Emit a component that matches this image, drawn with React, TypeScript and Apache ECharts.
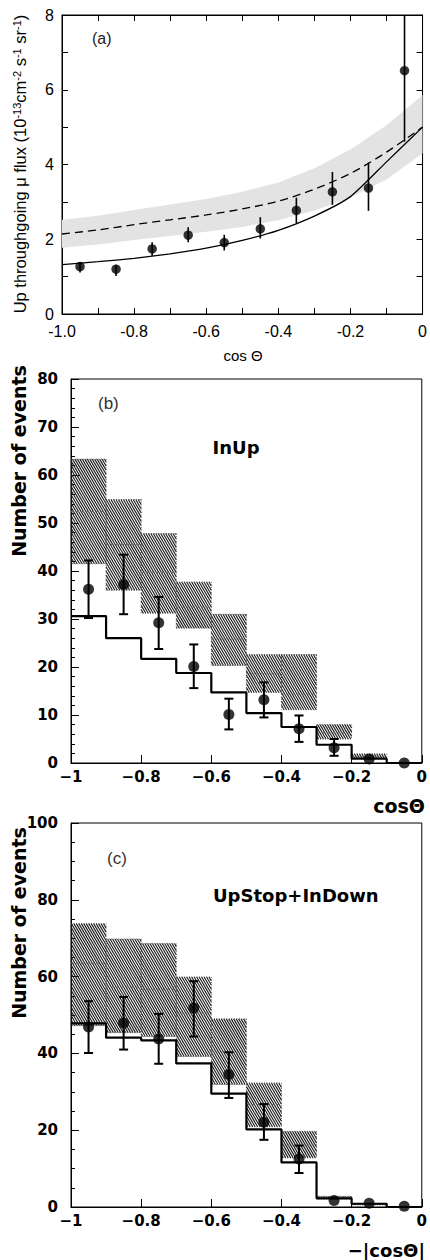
import React, { useEffect, useRef } from "react";
import * as echarts from "echarts";

// ---------- shared bins ----------
const binEdges = [-1, -0.9, -0.8, -0.7, -0.6, -0.5, -0.4, -0.3, -0.2, -0.1, 0];
const binCenters = [-0.95, -0.85, -0.75, -0.65, -0.55, -0.45, -0.35, -0.25, -0.15, -0.05];

// ---------- panel (a): upward throughgoing muon flux ----------
const aFlux = [1.27, 1.2, 1.74, 2.11, 1.91, 2.28, 2.77, 3.27, 3.37, 6.51];
const aErrLo = [1.11, 1.02, 1.56, 1.92, 1.7, 2.02, 2.43, 2.92, 2.76, 4.61];
const aErrHi = [1.39, 1.32, 1.92, 2.32, 2.12, 2.59, 3.11, 3.8, 4.05, 8.0];
const curveX = [-1, -0.9, -0.8, -0.7, -0.6, -0.5, -0.4, -0.3, -0.2, -0.1, 0];
const aOscCurve = [1.32, 1.4, 1.49, 1.61, 1.76, 1.97, 2.24, 2.62, 3.14, 4.07, 5.0];
const aNoOscCurve = [2.14, 2.25, 2.39, 2.52, 2.65, 2.81, 3.02, 3.34, 3.76, 4.33, 5.0];
const aBandHi = [2.52, 2.63, 2.78, 2.93, 3.08, 3.27, 3.52, 3.9, 4.4, 5.05, 5.86];
const aBandLo = [1.77, 1.86, 1.98, 2.09, 2.2, 2.33, 2.51, 2.77, 3.12, 3.6, 4.3];
const aYTicks = [0, 2, 4, 6, 8];

// ---------- panel (b): InUp ----------
const bData = [36.2, 37.2, 29.2, 20.1, 10.1, 13.2, 7.15, 3.2, 0.85, 0];
const bErrLo = [30.2, 31.0, 23.75, 15.6, 7.0, 9.5, 4.4, 1.5, 0.85, 0];
const bErrHi = [42.2, 43.4, 34.6, 24.7, 13.4, 16.8, 9.9, 5.0, 0.85, 0];
const bOsc = [30.6, 26.0, 21.7, 18.75, 14.7, 10.4, 7.5, 3.8, 0.9, 0];
const bNoOscHi = [63.3, 54.9, 47.8, 37.7, 31.0, 22.6, 22.6, 8.0, 1.9, 0];
const bNoOscLo = [41.5, 36.0, 31.2, 28.1, 20.3, 14.7, 11.1, 5.0, 1.0, 0];
const bNoOscMid = [52.4, 45.5, 39.7, 32.5, 25.8, 18.6, 14.4, 6.3, 1.4, 0];

// ---------- panel (c): UpStop + InDown ----------
const cData = [46.9, 47.9, 43.75, 51.8, 34.5, 22.1, 12.5, 1.7, 1.0, 0.2];
const cErrLo = [40.1, 41.0, 37.3, 44.4, 28.4, 17.5, 8.85, 1.7, 1.0, 0.2];
const cErrHi = [53.6, 54.7, 50.3, 58.8, 40.3, 26.8, 16.0, 1.7, 1.0, 0.2];
const cOsc = [47.8, 44.1, 43.4, 37.4, 29.5, 20.2, 11.6, 2.25, 0.85, 0];
const cNoOscHi = [73.8, 69.8, 68.6, 59.9, 49.0, 32.3, 19.7, 2.8, 0.9, 0];
const cNoOscLo = [47.2, 45.4, 44.4, 39.2, 31.9, 20.9, 12.8, 2.1, 0.55, 0];
const cNoOscMid = [63.5, 57.3, 56.7, 50.5, 40.4, 26.7, 16.1, 2.45, 0.7, 0];

const BOLD = "DejaVu Sans";
const REG = "Liberation Sans";

function histData(vals: number[]) {
  const d = vals.map((v, i) => [binEdges[i], v]);
  d.push([binEdges[binEdges.length - 1], vals[vals.length - 1]]);
  return d;
}

function boxData(lo: number[], hi: number[], mid: number[]) {
  return lo.map((l, i) => [binEdges[i], binEdges[i + 1], l, hi[i], mid[i]]);
}

function errData(lo: number[], hi: number[]) {
  return binCenters.map((x, i) => [x, lo[i], hi[i]]);
}

function hatchRender(params: any, api: any) {
  const xl = api.value(0), xr = api.value(1), lo = api.value(2), hi = api.value(3), mid = api.value(4);
  if (!(hi > lo)) return null;
  const p0 = api.coord([xl, hi]);
  const p1 = api.coord([xr, lo]);
  const x0 = p0[0], y0 = p0[1], x1 = p1[0], y1 = p1[1];
  const k = 1.7;
  const step = 4.2;
  const children: any[] = [];
  const cMin = y0 - k * x1;
  const cMax = y1 - k * x0;
  for (let c = Math.ceil(cMin / step) * step; c <= cMax; c += step) {
    const xa = Math.max(x0, (y0 - c) / k);
    const xb = Math.min(x1, (y1 - c) / k);
    if (xb - xa < 0.2) continue;
    children.push({
      type: "line",
      shape: { x1: xa, y1: k * xa + c, x2: xb, y2: k * xb + c },
      style: { stroke: "#1e1e1e", lineWidth: 1.15 },
    });
  }
  children.push({
    type: "rect",
    shape: { x: x0, y: y0, width: x1 - x0, height: y1 - y0 },
    style: { fill: null, stroke: "#444", lineWidth: 0.8, lineDash: [1, 1.5] },
  });
  const ym = api.coord([xl, mid])[1];
  children.push({
    type: "line",
    shape: { x1: x0, y1: ym, x2: x1, y2: ym },
    style: { stroke: "#666", lineWidth: 1, lineDash: [3, 2] },
  });
  return { type: "group", children };
}

function errRender(cap: number, width: number) {
  return (params: any, api: any) => {
    const x = api.value(0), lo = api.value(1), hi = api.value(2);
    if (!(hi > lo)) return null;
    const t = api.coord([x, hi]);
    const b = api.coord([x, lo]);
    const st = { stroke: "#000", lineWidth: width };
    const children: any[] = [
      { type: "line", shape: { x1: t[0], y1: t[1], x2: b[0], y2: b[1] }, style: st },
    ];
    if (cap > 0) {
      children.push({ type: "line", shape: { x1: t[0] - cap, y1: t[1], x2: t[0] + cap, y2: t[1] }, style: st });
      children.push({ type: "line", shape: { x1: b[0] - cap, y1: b[1], x2: b[0] + cap, y2: b[1] }, style: st });
    }
    return { type: "group", children };
  };
}

function bandRender(params: any, api: any) {
  if (params.dataIndex !== 0) return null;
  const pts: number[][] = [];
  for (let i = 0; i < curveX.length; i++) pts.push(api.coord([curveX[i], aBandHi[i]]));
  for (let i = curveX.length - 1; i >= 0; i--) pts.push(api.coord([curveX[i], aBandLo[i]]));
  return {
    type: "polygon",
    shape: { points: pts, smooth: 0 },
    style: { fill: "#e3e3e3", stroke: null },
  };
}

const fmtA = (v: number) => (Math.abs(v) < 1e-9 ? "0" : v.toFixed(1));
const fmtB = (v: number) => {
  if (Math.abs(v) < 1e-9) return "0";
  const s = Math.abs(v - Math.round(v)) < 1e-9 ? String(Math.round(Math.abs(v))) : Math.abs(v).toFixed(1);
  return (v < 0 ? "\u2212" : "") + s;
};

const blackLine = { show: true, lineStyle: { color: "#000", width: 1 } };

function buildOption(): any {
  const xCommonB = {
    type: "value",
    min: -1,
    max: 0,
    interval: 0.2,
    axisLine: { ...blackLine, onZero: false },
    axisTick: { show: true, inside: true, length: 8, lineStyle: { color: "#000" } },
    minorTick: { show: false },
    splitLine: { show: false },
    axisLabel: { fontFamily: BOLD, fontWeight: "bold", fontSize: 15, color: "#000", margin: 6, formatter: fmtB },
  };
  return {
    animation: false,
    backgroundColor: "#fff",
    grid: [
      { left: 62, top: 15, width: 362, height: 299, show: true, borderColor: "#000", borderWidth: 1, backgroundColor: "transparent" },
      { left: 71, top: 379, width: 354, height: 384, show: true, borderColor: "#000", borderWidth: 1, backgroundColor: "transparent" },
      { left: 71, top: 823, width: 354, height: 384, show: true, borderColor: "#000", borderWidth: 1, backgroundColor: "transparent" },
    ],
    xAxis: [
      {
        gridIndex: 0,
        type: "value",
        min: -1,
        max: 0,
        interval: 0.2,
        position: "bottom",
        axisLine: { ...blackLine, onZero: false },
        axisTick: { show: true, inside: true, length: 6, lineStyle: { color: "#000" } },
        minorTick: { show: true, splitNumber: 2, length: 6, lineStyle: { color: "#000" } },
        splitLine: { show: false },
        axisLabel: { fontFamily: REG, fontSize: 16, color: "#000", margin: 9, formatter: fmtA },
      },
      {
        gridIndex: 0,
        type: "value",
        min: -1,
        max: 0,
        interval: 0.2,
        position: "top",
        axisLine: { ...blackLine, onZero: false },
        axisTick: { show: true, inside: true, length: 6, lineStyle: { color: "#000" } },
        minorTick: { show: true, splitNumber: 2, length: 6, lineStyle: { color: "#000" } },
        splitLine: { show: false },
        axisLabel: { show: false },
      },
      { gridIndex: 1, position: "bottom", ...xCommonB },
      { gridIndex: 2, position: "bottom", ...xCommonB },
    ],
    yAxis: [
      {
        gridIndex: 0,
        type: "value",
        min: aYTicks[0],
        max: aYTicks[aYTicks.length - 1],
        interval: 2,
        position: "left",
        axisLine: { ...blackLine, onZero: false },
        axisTick: { show: true, inside: true, length: 6, lineStyle: { color: "#000" } },
        minorTick: { show: true, splitNumber: 2, length: 6, lineStyle: { color: "#000" } },
        splitLine: { show: false },
        axisLabel: { fontFamily: REG, fontSize: 16, color: "#000", margin: 8 },
      },
      {
        gridIndex: 0,
        type: "value",
        min: 0,
        max: 8,
        interval: 2,
        position: "right",
        axisLine: { ...blackLine, onZero: false },
        axisTick: { show: true, inside: true, length: 6, lineStyle: { color: "#000" } },
        minorTick: { show: true, splitNumber: 2, length: 6, lineStyle: { color: "#000" } },
        splitLine: { show: false },
        axisLabel: { show: false },
      },
      {
        gridIndex: 1,
        type: "value",
        min: 0,
        max: 80,
        interval: 10,
        axisLine: { ...blackLine, onZero: false },
        axisTick: { show: true, inside: true, length: 8, lineStyle: { color: "#000" } },
        minorTick: { show: true, splitNumber: 5, length: 4, lineStyle: { color: "#000" } },
        splitLine: { show: false },
        axisLabel: { fontFamily: BOLD, fontWeight: "bold", fontSize: 15, color: "#000", margin: 13 },
      },
      {
        gridIndex: 2,
        type: "value",
        min: 0,
        max: 100,
        interval: 20,
        axisLine: { ...blackLine, onZero: false },
        axisTick: { show: true, inside: true, length: 8, lineStyle: { color: "#000" } },
        minorTick: { show: true, splitNumber: 4, length: 4, lineStyle: { color: "#000" } },
        splitLine: { show: false },
        axisLabel: { fontFamily: BOLD, fontWeight: "bold", fontSize: 15, color: "#000", margin: 13 },
      },
    ],
    series: [
      // ----- (a)
      {
        type: "custom",
        xAxisIndex: 0,
        yAxisIndex: 0,
        renderItem: bandRender,
        data: curveX.map((x, i) => [x, aBandLo[i], aBandHi[i]]),
        encode: { x: 0, y: [1, 2] },
        z: 1,
        silent: true,
      },
      {
        type: "line",
        xAxisIndex: 0,
        yAxisIndex: 0,
        data: curveX.map((x, i) => [x, aNoOscCurve[i]]),
        smooth: 0.3,
        symbol: "none",
        lineStyle: { color: "#000", width: 1.3, type: [8, 5] },
        z: 3,
      },
      {
        type: "line",
        xAxisIndex: 0,
        yAxisIndex: 0,
        data: curveX.map((x, i) => [x, aOscCurve[i]]),
        smooth: 0.2,
        symbol: "none",
        lineStyle: { color: "#000", width: 1.3 },
        z: 3,
      },
      {
        type: "custom",
        xAxisIndex: 0,
        yAxisIndex: 0,
        renderItem: errRender(0, 1.6),
        data: errData(aErrLo, aErrHi),
        encode: { x: 0, y: [1, 2] },
        clip: true,
        z: 4,
      },
      {
        type: "scatter",
        xAxisIndex: 0,
        yAxisIndex: 0,
        data: binCenters.map((x, i) => [x, aFlux[i]]),
        symbol: "circle",
        symbolSize: 9.5,
        itemStyle: { color: "#000" },
        z: 5,
      },
      // ----- (b)
      {
        type: "custom",
        xAxisIndex: 2,
        yAxisIndex: 2,
        renderItem: hatchRender,
        data: boxData(bNoOscLo, bNoOscHi, bNoOscMid),
        encode: { x: [0, 1], y: [2, 3, 4] },
        z: 1,
      },
      {
        type: "line",
        xAxisIndex: 2,
        yAxisIndex: 2,
        data: histData(bOsc),
        step: "end",
        symbol: "none",
        lineStyle: { color: "#000", width: 2.2 },
        z: 3,
      },
      {
        type: "custom",
        xAxisIndex: 2,
        yAxisIndex: 2,
        renderItem: errRender(4.5, 2),
        data: errData(bErrLo, bErrHi),
        encode: { x: 0, y: [1, 2] },
        z: 4,
      },
      {
        type: "scatter",
        xAxisIndex: 2,
        yAxisIndex: 2,
        data: binCenters.map((x, i) => [x, bData[i]]),
        symbol: "circle",
        symbolSize: 11,
        itemStyle: { color: "#000" },
        z: 5,
      },
      // ----- (c)
      {
        type: "custom",
        xAxisIndex: 3,
        yAxisIndex: 3,
        renderItem: hatchRender,
        data: boxData(cNoOscLo, cNoOscHi, cNoOscMid),
        encode: { x: [0, 1], y: [2, 3, 4] },
        z: 1,
      },
      {
        type: "line",
        xAxisIndex: 3,
        yAxisIndex: 3,
        data: histData(cOsc),
        step: "end",
        symbol: "none",
        lineStyle: { color: "#000", width: 2.2 },
        z: 3,
      },
      {
        type: "custom",
        xAxisIndex: 3,
        yAxisIndex: 3,
        renderItem: errRender(4.5, 2),
        data: errData(cErrLo, cErrHi),
        encode: { x: 0, y: [1, 2] },
        z: 4,
      },
      {
        type: "scatter",
        xAxisIndex: 3,
        yAxisIndex: 3,
        data: binCenters.map((x, i) => [x, cData[i]]),
        symbol: "circle",
        symbolSize: 11,
        itemStyle: { color: "#000" },
        z: 5,
      },
    ],
    graphic: [
      {
        type: "text",
        x: 20,
        y: 164,
        rotation: Math.PI / 2,
        style: {
          text: "Up throughgoing \u03bc flux (10{s|-13}cm{s|-2} s{s|-1} sr{s|-1})",
          fontFamily: REG,
          fontSize: 16.5,
          fill: "#000",
          align: "center",
          verticalAlign: "middle",
          rich: {
            s: { fontFamily: REG, fontSize: 11, verticalAlign: "top", lineHeight: 11, padding: [0, 0, 7, 0] },
          },
        },
      },
      {
        type: "text",
        x: 92,
        y: 38,
        style: { text: "(a)", fontFamily: REG, fontSize: 16, fill: "#222", align: "left", verticalAlign: "middle" },
      },
      {
        type: "text",
        x: 243,
        y: 355,
        style: { text: "cos \u0398", fontFamily: REG, fontSize: 15, fill: "#000", align: "center", verticalAlign: "middle" },
      },
      {
        type: "text",
        x: 18.5,
        y: 461,
        rotation: Math.PI / 2,
        style: { text: "Number of events", fontFamily: BOLD, fontWeight: "bold", fontSize: 19, fill: "#000", align: "center", verticalAlign: "middle" },
      },
      {
        type: "text",
        x: 98,
        y: 403,
        style: { text: "(b)", fontFamily: REG, fontSize: 17, fill: "#333", align: "left", verticalAlign: "middle" },
      },
      {
        type: "text",
        x: 236,
        y: 447,
        style: { text: "InUp", fontFamily: BOLD, fontWeight: "bold", fontSize: 18, fill: "#000", align: "center", verticalAlign: "middle" },
      },
      {
        type: "text",
        x: 425,
        y: 806,
        style: { text: "cos\u0398", fontFamily: BOLD, fontWeight: "bold", fontSize: 19, fill: "#000", align: "right", verticalAlign: "middle" },
      },
      {
        type: "text",
        x: 18.5,
        y: 923,
        rotation: Math.PI / 2,
        style: { text: "Number of events", fontFamily: BOLD, fontWeight: "bold", fontSize: 19, fill: "#000", align: "center", verticalAlign: "middle" },
      },
      {
        type: "text",
        x: 107,
        y: 858,
        style: { text: "(c)", fontFamily: REG, fontSize: 17, fill: "#333", align: "left", verticalAlign: "middle" },
      },
      {
        type: "text",
        x: 213,
        y: 895,
        style: { text: "UpStop+InDown", fontFamily: BOLD, fontWeight: "bold", fontSize: 18, fill: "#000", align: "left", verticalAlign: "middle" },
      },
      {
        type: "text",
        x: 425,
        y: 1250,
        style: { text: "\u2212|cos\u0398|", fontFamily: BOLD, fontWeight: "bold", fontSize: 18, fill: "#000", align: "right", verticalAlign: "middle" },
      },
    ],
  };
}

export default function App() {
  const ref = useRef<HTMLDivElement>(null);
  useEffect(() => {
    if (!ref.current) return;
    const chart = echarts.init(ref.current, null, { renderer: "svg" });
    chart.setOption(buildOption());
    return () => chart.dispose();
  }, []);
  return (
    <div
      ref={ref}
      style={{ position: "absolute", left: 0, top: 0, width: 430, height: 1260, background: "#fff" }}
    />
  );
}
